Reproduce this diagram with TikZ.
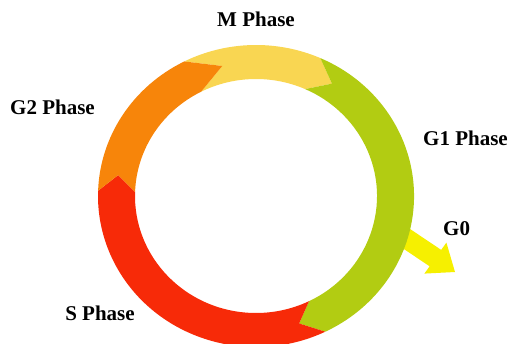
\documentclass[tikz,border=0pt]{standalone}
\usepackage{fontspec}
\setmainfont{Liberation Serif}
\usetikzlibrary{positioning}
\definecolor{mcol}{RGB}{249,214,82}
\definecolor{gonecol}{RGB}{178,204,18}
\definecolor{scol}{RGB}{247,42,8}
\definecolor{gtwocol}{RGB}{247,133,10}
\definecolor{gzerocol}{RGB}{246,240,0}
\tikzset{
    phase/.style={font=\fontsize{21}{25}\selectfont\bfseries, inner sep=0pt},
  }
\newcommand{\phaseseg}[5]{%
  \fill[#1] (#2:158pt and 151pt) arc[start angle=#2, end angle=#3, x radius=158pt, y radius=151pt]
    -- (#4:139.5pt and 134pt) -- (#3:121pt and 117pt)
    arc[start angle=#3, end angle=#2, x radius=121pt, y radius=117pt]
    -- (#5:139.5pt and 134pt) -- cycle;}
\begin{document}
\begin{tikzpicture}[x=1pt, y=1pt]
            \useasboundingbox (0,0) rectangle (510,343);
            \fill[gzerocol] (403.8,118.2) -- (441.2,93.1) -- (446.4,100.4) -- (455,71) -- (424.4,69.4) -- (429.6,76.7) -- (392.2,101.8) -- cycle;
            \begin{scope}[shift={(256,147)}]
              \phaseseg{mcol}{117}{66}{57}{104}
              \phaseseg{gonecol}{66}{-64}{-72}{57}
              \phaseseg{scol}{-64}{-182}{-189}{-72}
              \phaseseg{gtwocol}{178}{117}{104}{171}
            \end{scope}
            \node (mphase) [phase, anchor=base] at (256,316) {M Phase};
            \node (gtwophase) [phase, anchor=base] at (52.5,228) {G2 Phase};
            \node (gonephase) [phase, anchor=base west] at (423,197) {G1 Phase};
            \node (gzero) [phase, anchor=base west] at (443,108) {G0};
            \node (sphase) [phase, anchor=base] at (100,23) {S Phase};
        \end{tikzpicture}
\end{document}
